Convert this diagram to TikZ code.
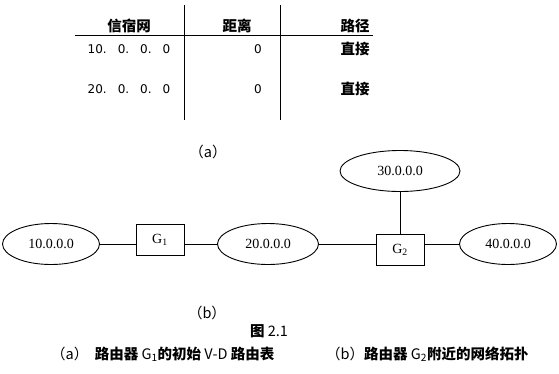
\documentclass[tikz,border=0pt]{standalone}
\usepackage{fontspec}
\setmainfont{Liberation Serif}
\newfontfamily\cjk{Noto Sans CJK SC}
\newfontfamily\numfont{DejaVu Sans}
\usetikzlibrary{shapes.geometric,positioning,calc}

\tikzset{
  net/.style={draw, ellipse, line width=0.9pt, minimum height=41pt, inner sep=0pt,
    font=\fontsize{14}{14}\selectfont},
  router/.style={draw, rectangle, line width=0.9pt, minimum width=48pt, minimum height=31pt,
    inner sep=0pt, font=\fontsize{14}{14}\selectfont},
  link/.style={line width=0.9pt},
  hdr/.style={font=\cjk\bfseries\fontsize{14.5}{14.5}\selectfont},
  cell/.style={font=\numfont\fontsize{12}{12}\selectfont},
  captext/.style={font=\cjk\fontsize{14.5}{14.5}\selectfont},
}
\newcommand{\gap}{\hspace{11pt}}

\begin{document}
\begin{tikzpicture}[x=1pt,y=-1pt]
    \useasboundingbox (0,0) rectangle (559,373);
    % Table
    \draw[link] (184,5) -- (184,120);
    \draw[link] (280,5) -- (280,120);
    \draw[link] (75,35) -- (373,35);
    \node[hdr] (hnet) at (129,26) {信宿网};
    \node[hdr] (hdist) at (237,26) {距离};
    \node[hdr] (hpath) at (355,26) {路径};
    \node[cell] (net1) at (129,49) {10.\gap 0.\gap 0.\gap 0};
    \node[cell] (dist1) at (258,49) {0};
    \node[hdr] (path1) at (355,49) {直接};
    \node[cell] (net2) at (129,89) {20.\gap 0.\gap 0.\gap 0};
    \node[cell] (dist2) at (258,89) {0};
    \node[hdr] (path2) at (355,89) {直接};
    \node[captext] (capa) at (208,152) {（a）};
    % Network
    \node[net, minimum width=97pt] (n10) at (51,244) {10.0.0.0};
    \node[router] (g1) at (160,240) {G\textsubscript{1}};
    \node[net, minimum width=101pt] (n20) at (268,244) {20.0.0.0};
    \node[net, minimum width=120pt] (n30) at (400,171) {30.0.0.0};
    \node[router] (g2) at (400,249.5) {G\textsubscript{2}};
    \node[net, minimum width=97pt] (n40) at (508,244) {40.0.0.0};
    \draw[link] (n10.east) -- (n10.east -| g1.west);
    \draw[link] (g1.east |- n20.west) -- (n20.west);
    \draw[link] (n20.east) -- (n20.east -| g2.west);
    \draw[link] (g2.east |- n40.west) -- (n40.west);
    \draw[link] (n30.south) -- (n30.south |- g2.north);
    % Captions
    \node[captext] (capb) at (207,313) {（b）};
    \node[captext] (fig) at (269,331) {\textbf{图} 2.1};
    \node[captext, anchor=west, inner sep=0pt] (capl) at (51,354)
      {（a）\ \ \textbf{路由器} G\textsubscript{1}\textbf{的初始} V-D \textbf{路由表}};
    \node[captext, anchor=west, inner sep=0pt] (capr) at (326,354)
      {（b）\textbf{路由器} G\textsubscript{2}\textbf{附近的网络拓扑}};
\end{tikzpicture}
\end{document}
